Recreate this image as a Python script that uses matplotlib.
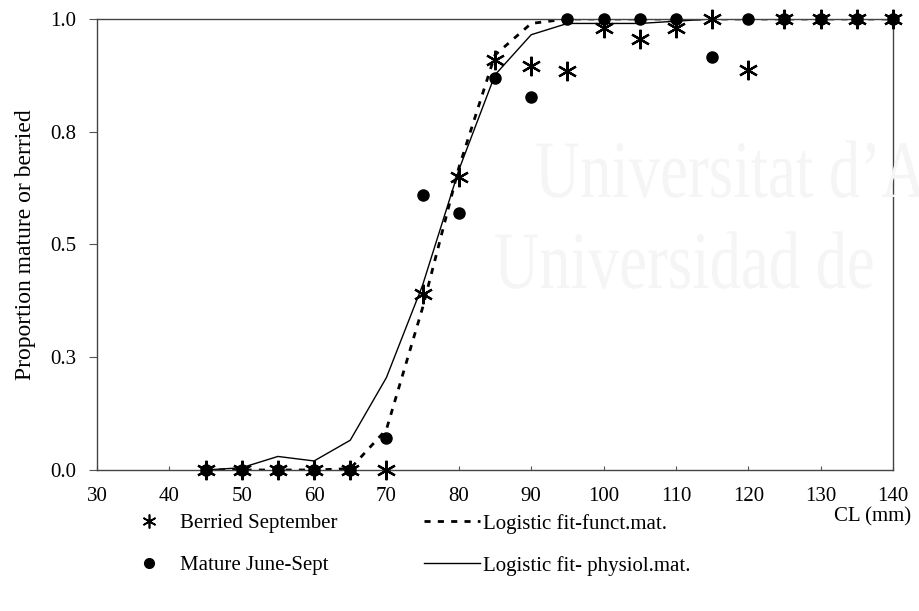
import matplotlib
matplotlib.use("Agg")
import matplotlib.pyplot as plt
from matplotlib.lines import Line2D
from matplotlib.textpath import TextPath
from matplotlib.patches import PathPatch
from matplotlib.font_manager import FontProperties
from matplotlib.transforms import Affine2D

plt.rcParams['font.family'] = ['Liberation Serif', 'DejaVu Serif']

# carapace length classes (mm)
cl = [45, 50, 55, 60, 65, 70, 75, 80, 85, 90, 95, 100, 105, 110, 115, 120, 125, 130, 135, 140]

# observed proportions
berried_sept = [0, 0, 0, 0, 0, 0, 0.39, 0.65, 0.91, 0.895, 0.885, 0.98, 0.955, 0.98, 1.0, 0.887, 1.0, 1.0, 1.0, 1.0]
mature_june_sept = [0, 0, 0, 0, 0, 0.07, 0.61, 0.57, 0.87, 0.827, 1.0, 1.0, 1.0, 1.0, 0.915, 1.0, 1.0, 1.0, 1.0, 1.0]

# fitted logistic curves
fit_funct = [0, 0, 0, 0, 0.003, 0.09, 0.36, 0.67, 0.92, 0.99, 1.0, 1.0, 1.0, 1.0, 1.0, 1.0, 1.0, 1.0, 1.0, 1.0]
fit_physiol = [0, 0.005, 0.03, 0.02, 0.066, 0.205, 0.41, 0.665, 0.876, 0.965, 0.99, 0.99, 0.99, 0.995, 1.0, 1.0, 1.0, 1.0, 1.0, 1.0]

yticks = [0, 0.25, 0.5, 0.75, 1.0]
ytick_labels = ['0.0', '0.3', '0.5', '0.8', '1.0']
xticks = list(range(30, 150, 10))

FS = 15
DASH = (2.2, 2.6)

fig = plt.figure(figsize=(9.2, 6.11), dpi=100)
ax = fig.add_axes([0.1054, 0.2308, 0.8653, 0.7382])


def faint_text(s, x, y, sx, sy):
    # narrow, tall lettering drawn as a path in pixel coordinates
    tp = TextPath((0, 0), s, size=1, prop=FontProperties(family='Liberation Serif'))
    tr = Affine2D().scale(sx, sy).translate(x, y)
    fig.patches.append(PathPatch(tp, transform=tr, facecolor='#f5f5f5',
                                 edgecolor='none', zorder=0))


faint_text("Universitat d\u2019A", 535, 414, 62.6, 81.6)
faint_text("Universidad de", 494, 323, 62.6, 81.6)

ax.patch.set_alpha(0)
ax.plot(cl, fit_funct, color='black', lw=2.0, dashes=DASH, zorder=2)
ax.plot(cl, fit_physiol, color='black', lw=1.0, zorder=2)
ax.plot(cl, mature_june_sept, 'o', color='black', ms=8, clip_on=False, zorder=3)
ax.plot(cl, berried_sept, ls='none', marker=(6, 2, 0), color='black', ms=14,
        mew=1.6, clip_on=False, zorder=4)

ax.set_xlim(30, 140)
ax.set_ylim(0, 1)
ax.set_xticks(xticks)
ax.set_yticks(yticks)
ax.set_yticklabels(ytick_labels)
ax.tick_params(axis='both', labelsize=FS, width=0.8, color='#555555')
ax.tick_params(axis='x', direction='in', length=3, pad=12)
ax.tick_params(axis='y', direction='out', length=6, pad=9)
for s in ax.spines.values():
    s.set_color('#444444')
    s.set_linewidth(1.0)

ax.set_ylabel("Proportion mature or berried", fontsize=17, labelpad=10)
fig.text(0.99, 0.154, "CL (mm)", fontsize=FS, ha='right', va='center')

# legend, two separate columns below the axes
leg_kw = dict(loc='upper left', frameon=False, fontsize=FS, handlelength=2.7,
              handletextpad=0.15, labelspacing=1.05, borderaxespad=0, borderpad=0)
h1 = [Line2D([], [], ls='none', marker=(6, 2, 0), color='black', ms=10, mew=1.2),
      Line2D([], [], ls='none', marker='o', color='black', ms=7)]
h2 = [Line2D([], [], color='black', lw=2.0, dashes=DASH),
      Line2D([], [], color='black', lw=1.0)]
fig.legend(h1, ["Berried September", "Mature June-Sept"],
           bbox_to_anchor=(0.1315, 0.159), **leg_kw)
fig.legend(h2, ["Logistic fit-funct.mat.", "Logistic fit- physiol.mat."],
           bbox_to_anchor=(0.461, 0.159), **leg_kw)

fig.savefig("out.png", dpi=100)
plt.close(fig)
